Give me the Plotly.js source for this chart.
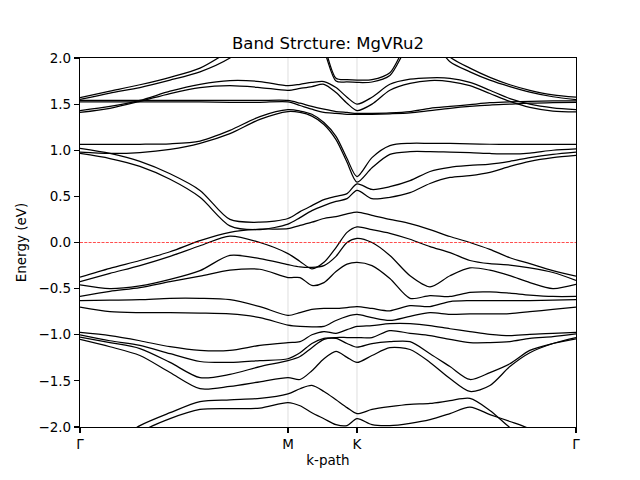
<!DOCTYPE html>
<html>
<head>
<meta charset="utf-8">
<script src="https://cdn.plot.ly/plotly-3.0.1.min.js"></script>
<style>
  html, body { margin: 0; padding: 0; background: #fff; }
  #plot { width: 640px; height: 480px; }
</style>
</head>
<body>
<div id="plot"></div>
<script>
// ── k-path sample points (Γ → M → K → Γ) ──
const kpts = [0, 0.144, 0.288, 0.433, 0.577, 0.721, 0.865, 1.0, 1.058, 1.115, 1.173, 1.231,
              1.284, 1.332, 1.404, 1.490, 1.587, 1.683, 1.779, 1.875, 1.971, 2.067, 2.163, 2.274, 2.385];
const kTickVals = [0, 1.0, 1.332, 2.385];
const kTickText = ['Γ', 'M', 'K', 'Γ'];

// ── band energies (eV), one value per k point ──
const bandA  = [1.57, 1.64, 1.71, 1.79, 1.89, 2.08, 2.3, 2.4, 2.4, 2.35, 2.13, 1.78, 1.765, 1.76, 1.765, 1.84, 2.2, 2.25, 2.01, 1.89, 1.79, 1.71, 1.65, 1.60, 1.575];
const bandB  = [1.55, 1.62, 1.68, 1.76, 1.85, 2.0, 2.25, 2.35, 2.35, 2.3, 2.08, 1.75, 1.74, 1.735, 1.74, 1.81, 2.15, 2.2, 1.96, 1.85, 1.76, 1.69, 1.63, 1.58, 1.55];
const bandC  = [1.54, 1.54, 1.54, 1.54, 1.54, 1.54, 1.54, 1.54, 1.51, 1.475, 1.445, 1.42, 1.41, 1.40, 1.40, 1.405, 1.42, 1.455, 1.475, 1.495, 1.515, 1.525, 1.53, 1.535, 1.535];
const bandD  = [1.525, 1.525, 1.525, 1.525, 1.525, 1.52, 1.52, 1.525, 1.485, 1.445, 1.41, 1.40, 1.39, 1.39, 1.39, 1.395, 1.405, 1.43, 1.455, 1.475, 1.49, 1.50, 1.51, 1.515, 1.52];
const bandE  = [1.43, 1.475, 1.54, 1.64, 1.715, 1.755, 1.745, 1.70, 1.715, 1.735, 1.745, 1.68, 1.575, 1.50, 1.575, 1.715, 1.77, 1.785, 1.78, 1.735, 1.65, 1.56, 1.50, 1.46, 1.44];
const bandF  = [1.41, 1.455, 1.53, 1.615, 1.68, 1.70, 1.68, 1.65, 1.67, 1.69, 1.715, 1.625, 1.51, 1.43, 1.50, 1.65, 1.725, 1.755, 1.745, 1.70, 1.615, 1.53, 1.465, 1.425, 1.415];
const bandR1 = [1.065, 1.065, 1.065, 1.07, 1.10, 1.215, 1.365, 1.44, 1.425, 1.39, 1.30, 1.15, 0.91, 0.715, 0.92, 1.05, 1.075, 1.075, 1.075, 1.07, 1.065, 1.065, 1.065, 1.065, 1.065];
const bandR2 = [0.98, 0.965, 0.975, 1.01, 1.075, 1.18, 1.335, 1.42, 1.41, 1.37, 1.28, 1.115, 0.87, 0.655, 0.81, 0.955, 0.985, 0.985, 0.98, 0.975, 0.965, 0.96, 0.97, 1.0, 1.015];
const bandH  = [1.02, 0.965, 0.88, 0.745, 0.565, 0.25, 0.22, 0.26, 0.335, 0.40, 0.465, 0.50, 0.53, 0.635, 0.575, 0.605, 0.67, 0.77, 0.815, 0.835, 0.85, 0.88, 0.92, 0.955, 0.98];
const bandI  = [0.965, 0.91, 0.825, 0.685, 0.49, 0.18, 0.14, 0.20, 0.27, 0.345, 0.40, 0.445, 0.475, 0.565, 0.475, 0.49, 0.54, 0.64, 0.705, 0.725, 0.76, 0.825, 0.88, 0.92, 0.945];
const bandJ  = [-0.375, -0.28, -0.195, -0.10, 0.02, 0.11, 0.145, 0.15, 0.185, 0.22, 0.26, 0.28, 0.31, 0.33, 0.295, 0.25, 0.205, 0.14, 0.065, 0.0, -0.075, -0.165, -0.23, -0.305, -0.365];
const bandJ2 = [-0.425, -0.335, -0.25, -0.15, -0.035, 0.07, 0.0, -0.12, -0.205, -0.285, -0.215, -0.055, 0.11, 0.17, 0.14, 0.10, 0.035, -0.045, -0.11, -0.195, -0.23, -0.245, -0.275, -0.325, -0.41];
const bandV1 = [-0.46, -0.50, -0.47, -0.40, -0.305, -0.14, -0.175, -0.24, -0.265, -0.27, -0.25, -0.15, 0.0, 0.045, 0.0, -0.14, -0.36, -0.48, -0.36, -0.275, -0.30, -0.36, -0.435, -0.50, -0.455];
const bandV2 = [-0.585, -0.53, -0.49, -0.425, -0.365, -0.30, -0.29, -0.38, -0.38, -0.465, -0.435, -0.315, -0.235, -0.215, -0.25, -0.39, -0.605, -0.575, -0.585, -0.54, -0.535, -0.55, -0.57, -0.585, -0.585];
const bandLe = [-0.63, -0.625, -0.62, -0.605, -0.605, -0.62, -0.695, -0.79, -0.76, -0.725, -0.715, -0.715, -0.705, -0.695, -0.715, -0.74, -0.685, -0.695, -0.64, -0.63, -0.63, -0.63, -0.63, -0.625, -0.62];
const bandLf = [-0.70, -0.75, -0.76, -0.76, -0.765, -0.775, -0.815, -0.895, -0.91, -0.915, -0.91, -0.845, -0.80, -0.78, -0.815, -0.845, -0.80, -0.76, -0.78, -0.775, -0.775, -0.77, -0.75, -0.725, -0.70];
const bandLg = [-0.975, -1.01, -1.065, -1.13, -1.17, -1.17, -1.115, -1.085, -1.075, -1.0, -0.965, -0.985, -0.945, -0.91, -0.90, -0.88, -0.88, -0.90, -0.935, -0.965, -0.995, -1.01, -0.995, -0.985, -0.975];
const bandLh = [-1.0, -1.065, -1.115, -1.205, -1.29, -1.30, -1.28, -1.26, -1.195, -1.095, -1.04, -1.03, -1.03, -1.03, -1.03, -0.955, -0.985, -1.01, -1.05, -1.085, -1.085, -1.075, -1.04, -1.02, -0.99];
const bandLi = [-1.025, -1.085, -1.15, -1.30, -1.465, -1.43, -1.345, -1.28, -1.235, -1.14, -1.05, -1.04, -1.095, -1.135, -1.095, -1.075, -1.075, -1.205, -1.345, -1.485, -1.41, -1.315, -1.17, -1.095, -1.045];
const bandLj = [-1.05, -1.13, -1.225, -1.41, -1.585, -1.56, -1.51, -1.465, -1.485, -1.39, -1.26, -1.18, -1.245, -1.30, -1.225, -1.14, -1.16, -1.30, -1.475, -1.615, -1.55, -1.345, -1.195, -1.095, -1.03];
const bandLk = [-2.4, -2.2, -1.985, -1.845, -1.725, -1.705, -1.69, -1.64, -1.585, -1.55, -1.615, -1.705, -1.79, -1.855, -1.81, -1.78, -1.755, -1.745, -1.715, -1.69, -1.82, -2.005, -2.15, -2.25, -2.3];
const bandLl = [-2.5, -2.35, -2.06, -1.91, -1.81, -1.80, -1.795, -1.735, -1.77, -1.845, -1.91, -1.975, -1.985, -1.91, -1.975, -1.985, -1.96, -1.92, -1.855, -1.785, -1.865, -1.94, -2.02, -2.15, -2.25];

const allBands = [bandA, bandB, bandC, bandD, bandE, bandF, bandR1, bandR2, bandH, bandI,
                  bandJ, bandJ2, bandV1, bandV2, bandLe, bandLf, bandLg, bandLh, bandLi, bandLj, bandLk, bandLl];

const eTickVals = [-2, -1.5, -1, -0.5, 0, 0.5, 1, 1.5, 2];
const eTickText = eTickVals.map(v => (v < 0 ? '\u2212' : '') + Math.abs(v).toFixed(1));

const FONT = 'DejaVu Sans, sans-serif';

const traces = allBands.map(e => ({
  type: 'scatter', mode: 'lines',
  x: kpts, y: e,
  line: { color: '#000', width: 1.25, shape: 'spline', smoothing: 0.8 },
  hoverinfo: 'skip',
}));

const vLine = k => ({
  type: 'line', xref: 'x', yref: 'paper', x0: k, x1: k, y0: 0, y1: 1,
  line: { color: '#d0d0d0', width: 0.7 }, layer: 'below',
});

const axisBase = {
  showline: true, mirror: true, linecolor: '#000', linewidth: 1.1,
  ticks: 'outside', ticklen: 5, tickwidth: 1.1, tickcolor: '#000',
  showgrid: false, zeroline: false,
  tickfont: { family: FONT, size: 13.5, color: '#000' },
};

const layout = {
  width: 640, height: 480,
  margin: { l: 80, r: 64, t: 58, b: 53 },
  paper_bgcolor: '#fff', plot_bgcolor: '#fff',
  showlegend: false, hovermode: false,
  title: {
    text: 'Band Strcture: MgVRu2',
    font: { family: FONT, size: 16.5, color: '#000' },
    x: 0.5, xref: 'paper', xanchor: 'center',
    y: 0.91, yref: 'container', yanchor: 'middle',
  },
  xaxis: {
    ...axisBase,
    range: [0, kpts[kpts.length - 1]],
    tickvals: kTickVals, ticktext: kTickText,
    title: { text: 'k-path', font: { family: FONT, size: 13.5, color: '#000' }, standoff: 4 },
  },
  yaxis: {
    ...axisBase,
    range: [-2, 2],
    tickvals: eTickVals, ticktext: eTickText,
    title: { text: 'Energy (eV)', font: { family: FONT, size: 13.5, color: '#000' }, standoff: 8 },
  },
  shapes: [
    vLine(kTickVals[1]),
    vLine(kTickVals[2]),
    {
      type: 'line', xref: 'paper', yref: 'y', x0: 0, x1: 1, y0: 0, y1: 0,
      line: { color: '#ff0000', width: 0.7, dash: '3px,1.3px' },
    },
  ],
};

Plotly.newPlot('plot', traces, layout, { staticPlot: true, displayModeBar: false });
</script>
</body>
</html>
